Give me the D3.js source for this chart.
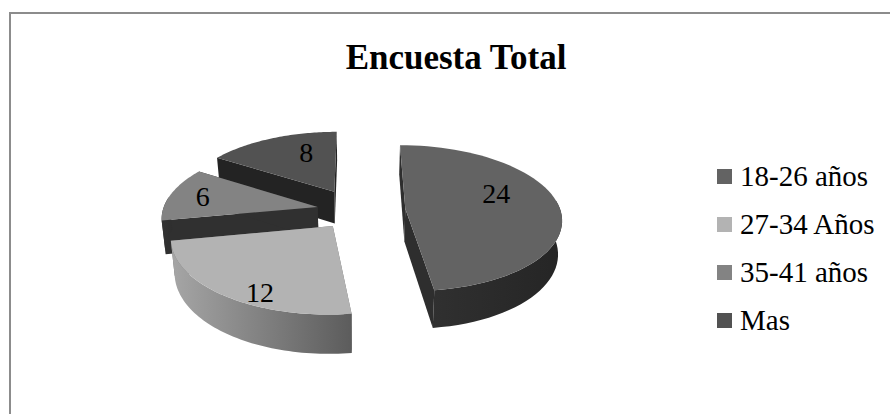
<!DOCTYPE html>
<html>
<head>
<meta charset="utf-8">
<script src="https://cdnjs.cloudflare.com/ajax/libs/d3/7.8.5/d3.min.js"></script>
<style>
    html,body{margin:0;padding:0;background:#fff;}
    svg{display:block;}
    text{font-family:"Liberation Serif","Times New Roman",serif;fill:#000;}
</style>
</head>
<body>
<svg id="chart" width="890" height="414"></svg>
<script>
const titleText = 'Encuesta Total';
const categories = ['18-26 años','27-34 Años','35-41 años','Mas'];
const values = [24,12,6,8];

// colours per slice, in category order
const topColors = ['#636363','#b3b3b3','#838383','#525252'];
const edgeColors = ['#2e2e2e','#6e6e6e','#303030','#232323'];
const outerColors = [['#303030','#252525'],['#a6a6a6','#5c5c5c'],['#333333','#2e2e2e'],['#3a3a3a','#2a2a2a']];

// fake 3d: flat pie plane pushed through a perspective
const view = {cx:360,cy:209,sx:155,sy:72,persp:0.129,depth:33,shrink:0.98,explode:0.3};
// each slice sits a few px off the ideal explode
const sliceNudge = [[-1,1],[1,-1],[3,2],[-4,1]];
// where excel left the value labels, relative to the slice tip (radius, degrees)
const labelPolar = [[0.635,72],[0.86,206.6],[0.75,278.6],[0.645,338]];
const drawOrder = [3,0,2,1];

const svg = d3.select('#chart');
const rad = Math.PI/180;

function project(X,Y,down){
    const w = 1+view.persp*Y;
    let x = view.cx+view.sx*X/w;
    const y = view.cy-view.sy*Y/w+(down?view.depth/w:0);
    if (down) x = view.cx+(x-view.cx)*view.shrink;
    return [x,y];
}

const line = d3.line();
const slices = d3.pie().sort(null).startAngle(0).endAngle(2*Math.PI)(values);

// frame, the reference is cut off on the right and at the bottom
svg.append('path')
    .attr('d','M10,414V13H890')
    .attr('fill','none')
    .attr('stroke','#8c8c8c')
    .attr('stroke-width',2);

svg.append('text')
    .attr('x',456)
    .attr('y',68.5)
    .attr('text-anchor','middle')
    .style('font-size','35px')
    .style('font-weight','bold')
    .text(titleText);

const defs = svg.append('defs');
outerColors.forEach((c,i)=>{
    const g = defs.append('linearGradient').attr('id','outer'+i);
    g.selectAll('stop').data(c).join('stop')
        .attr('offset',(d,j)=>j*100+'%')
        .attr('stop-color',d=>d);
});

drawOrder.forEach(i=>{
    const s = slices[i];
    const mid = (s.startAngle+s.endAngle)/2;
    const tipX = view.explode*Math.sin(mid), tipY = view.explode*Math.cos(mid);
    const angles = d3.range(0,61).map(k=>s.startAngle+(s.endAngle-s.startAngle)*k/60);
    const rim = angles.map(a=>[tipX+Math.sin(a),tipY+Math.cos(a)]);
    const g = svg.append('g')
        .attr('class','slice')
        .attr('transform',`translate(${sliceNudge[i]})`);

    [rim[0],rim[rim.length-1]].forEach(p=>{
        g.append('path')
            .attr('d',line([project(tipX,tipY),project(p[0],p[1]),project(p[0],p[1],true),project(tipX,tipY,true)])+'Z')
            .attr('fill',edgeColors[i]);
    });
    // only the rim that faces the viewer gets a wall
    const front = rim.filter(p=>p[1]<tipY+0.15);
    if (front.length>1){
        g.append('path')
            .attr('d',line(front.map(p=>project(p[0],p[1])).concat(front.slice().reverse().map(p=>project(p[0],p[1],true))))+'Z')
            .attr('fill',`url(#outer${i})`);
    }
    g.append('path')
        .attr('d',line([project(tipX,tipY)].concat(rim.map(p=>project(p[0],p[1]))))+'Z')
        .attr('fill',topColors[i]);
});

// value labels go on top of everything
svg.selectAll('text.value')
    .data(slices)
    .join('text')
    .attr('class','value')
    .attr('text-anchor','middle')
    .attr('dy','0.33em')
    .style('font-size','28px')
    .attr('transform',(d,i)=>{
        const mid = (d.startAngle+d.endAngle)/2;
        const r = labelPolar[i][0], a = labelPolar[i][1]*rad;
        const p = project(view.explode*Math.sin(mid)+r*Math.sin(a),view.explode*Math.cos(mid)+r*Math.cos(a));
        return `translate(${p[0]},${p[1]})`;
    })
    .text(d=>d.value);

// legend
const rowScale = d3.scalePoint().domain(categories).range([176.5,320.5]);
const legend = svg.selectAll('g.legend')
    .data(categories)
    .join('g')
    .attr('class','legend')
    .attr('transform',d=>`translate(717,${rowScale(d)})`);
legend.append('rect')
    .attr('y',-7.5)
    .attr('width',15)
    .attr('height',15)
    .attr('fill',(d,i)=>topColors[i]);
legend.append('text')
    .attr('x',23)
    .attr('y',9.5)
    .style('font-size','29px')
    .text(d=>d);
</script>
</body>
</html>
